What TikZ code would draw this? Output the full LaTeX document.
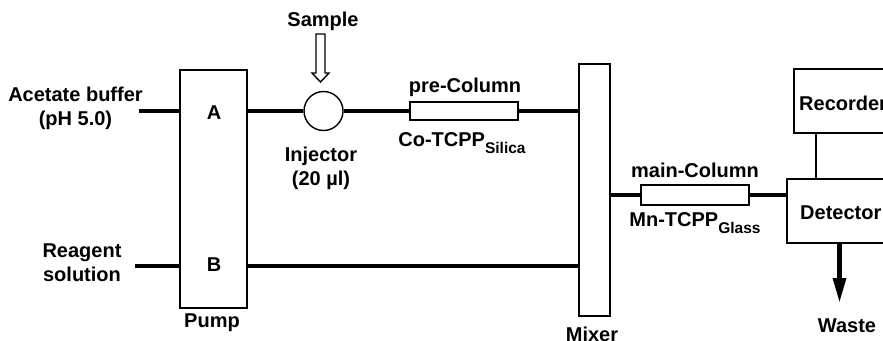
\documentclass[tikz,border=0pt]{standalone}
\usepackage{fontspec}
\setmainfont{Liberation Sans}
\usetikzlibrary{arrows.meta}
\tikzset{
 px/.style={x=1pt,y=-1pt},
 box/.style={draw,line width=1.4pt,fill=white,inner sep=0pt,outer sep=0pt},
 lab/.style={font=\bfseries\fontsize{20}{24}\selectfont,inner sep=0pt,align=center},
 pipe/.style={line width=4.6pt}
}
\newcommand{\subt}[1]{\raisebox{-0.32em}{\fontsize{15.5}{15.5}\selectfont #1}}
\begin{document}
\begin{tikzpicture}[px]
\useasboundingbox (0,0) rectangle (883,340);
\begin{scope}
\clip (0,0) rectangle (883,340);
\coordinate (acet) at (139,111);
\coordinate (reag) at (135,266);
\node[box,minimum width=67pt,minimum height=238pt] (pump) at (213.5,189) {};
\node[box,minimum width=31pt,minimum height=252pt] (mixer) at (594.5,190) {};
\node[box,minimum width=108pt,minimum height=18pt] (pre) at (464,111) {};
\node[box,minimum width=108pt,minimum height=20pt] (main) at (695,195) {};
\node[box,minimum width=100pt,minimum height=64pt] (det) at (837,211) {};
\node[box,minimum width=100pt,minimum height=64pt] (rec) at (844,101) {};
\node[draw,circle,line width=1.4pt,minimum size=39pt,inner sep=0pt] (inj) at (323.5,111) {};
\coordinate (pa) at (pump.east|-acet);
\coordinate (pb) at (pump.east|-reag);
\draw[pipe] (acet) -- (pump.west|-acet);
\draw[pipe] (reag) -- (pump.west|-reag);
\draw[pipe] (pa) -- (inj);
\draw[pipe] (inj) -- (pre);
\draw[pipe] (pre) -- (mixer.west|-pre);
\draw[pipe] (pb) -- (mixer.west|-pb);
\draw[pipe] (mixer.east|-main) -- (main);
\draw[pipe] (main) -- (det.west|-main);
\coordinate (rd) at (816,150);
\draw[line width=1.4pt] (rec.south-|rd) -- (det.north-|rd);
\coordinate (w) at (839.5,303);
\draw[line width=4.6pt,-{Triangle[length=25pt,width=12.5pt]}] (det.south-|w) -- (w);
\coordinate (s0) at (320.5,34);
\draw[line width=1.4pt,fill=white,line join=miter] (s0) ++(-4.5,0) -- ++(9,0) -- ++(0,39) -- ++(4,0) -- ++(-8.5,9) -- ++(-8.5,-9) -- ++(4,0) -- cycle;
\node[lab] (ab) at (75.5,108.5) {Acetate buffer\\(pH 5.0)};
\node[lab] (rs) at (82,263) {Reagent\\solution};
\node[lab] (A) at (214,112.5) {A};
\node[lab] (B) at (214,265) {B};
\node[lab] (plab) at (212,323) {Pump};
\node[lab] (samp) at (323,21) {Sample};
\node[lab] (ilab) at (321,168) {Injector\\(20 µl)};
\node[lab] (prel) at (465,87) {pre-Column};
\node[lab] (col) at (462,143) {Co-TCPP\subt{Silica}};
\node[lab] (mainl) at (695,170) {main-Column};
\node[lab] (mnl) at (695,223) {Mn-TCPP\subt{Glass}};
\node[lab] (mix) at (592,334) {Mixer};
\node[lab] (wl) at (847,326) {Waste};
\node[lab,anchor=west] (dl) at (800,213) {Detector};
\node[lab,anchor=west] (rl) at (799,103) {Recorder};
\end{scope}
\end{tikzpicture}
\end{document}
